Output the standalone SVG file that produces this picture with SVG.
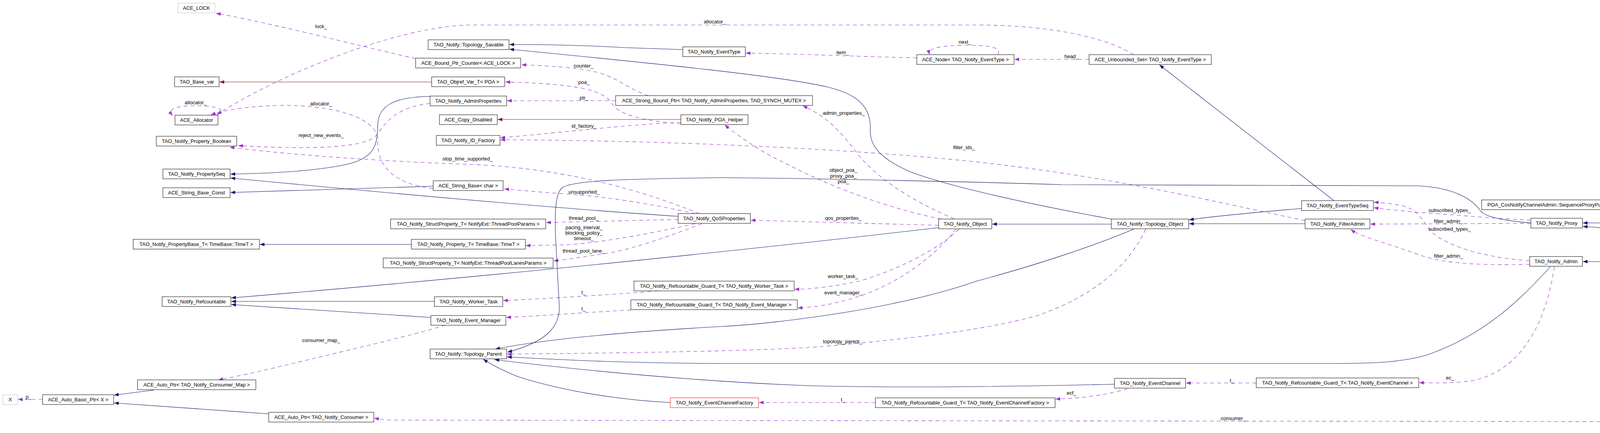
<svg xmlns="http://www.w3.org/2000/svg" width="6552" height="1109" viewBox="0 0 6552 1109">
<style>
text{font-family:"Liberation Sans",Arial,sans-serif;font-size:13px;fill:#000}
.node rect{fill:#fff;stroke:#000;stroke-width:1}
.node text{text-anchor:middle}
.gray rect{stroke:#bfbfbf}
.red rect{stroke:#ff0000}
.main rect{fill:#bfbfbf}
.inh{fill:none;stroke:#191970;stroke-width:1.1;marker-end:url(#an)}
.use{fill:none;stroke:#9a32cd;stroke-width:1.1;stroke-dasharray:10,8;marker-end:url(#ap)}
.prot{fill:none;stroke:#8b1a1a;stroke-width:1.1;marker-end:url(#ar)}
.lbl{text-anchor:middle}
</style>
<defs>
<marker id="an" viewBox="0 0 12 9" refX="12" refY="4.5" markerWidth="12" markerHeight="9" markerUnits="userSpaceOnUse" orient="auto"><path d="M0,0L12,4.5L0,9z" fill="#191970"/></marker>
<marker id="ap" viewBox="0 0 12 9" refX="12" refY="4.5" markerWidth="12" markerHeight="9" markerUnits="userSpaceOnUse" orient="auto"><path d="M0,0L12,4.5L0,9z" fill="#9a32cd"/></marker>
<marker id="ar" viewBox="0 0 12 9" refX="12" refY="4.5" markerWidth="12" markerHeight="9" markerUnits="userSpaceOnUse" orient="auto"><path d="M0,0L12,4.5L0,9z" fill="#8b1a1a"/></marker>
</defs>
<rect x="0" y="0" width="6552" height="1109" fill="#fff"/>
<g id="edges">
<path class="use" d="M1064,150 C950,125 700,60 553,34"/>
<text class="lbl" x="822" y="72">lock_</text>
<path class="use" d="M2902,140 C2840,100 2700,64 2500,64 L1200,64 C1000,70 700,200 556,293"/>
<text class="lbl" x="1830" y="60">allocator_</text>
<path class="use" d="M553,296 C578,284 570,272 505,271 C448,270 428,280 442,296"/>
<text class="lbl" x="501" y="267">allocator_</text>
<path class="use" d="M1109,483 C1000,470 965,420 967,360 C968,300 850,268 715,270 C640,272 580,280 540,294"/>
<text class="lbl" x="822" y="270">allocator_</text>
<path class="use" d="M1101,265 C1000,275 980,330 960,350 C930,378 800,384 610,373"/>
<text class="lbl" x="822" y="351">reject_new_events_</text>
<path class="use" d="M1790,547 C1650,490 1450,430 1200,421 C1000,414 750,398 588,377"/>
<text class="lbl" x="1197" y="411">stop_time_supported_</text>
<path class="use" d="M1780,547 C1700,530 1580,505 1440,496 C1380,492 1330,487 1291,484"/>
<text class="lbl" x="1495" y="496">unsupported_</text>
<path class="prot" d="M1105,210 L562,210"/>
<path class="inh" d="M1748,127 L1600,122 C1500,116 1420,114 1304,114"/>
<path class="inh" d="M2845,561 C2700,535 2450,485 2330,440 C2250,405 2225,370 2228,330 C2230,270 2190,240 2119,223 C2000,195 1700,165 1304,126"/>
<path class="use" d="M1660,245 C1600,225 1580,195 1515,182 C1460,172 1400,168 1335,166"/>
<text class="lbl" x="1494" y="173">counter_</text>
<path class="use" d="M1743,317 C1650,310 1590,295 1570,270 C1550,235 1500,215 1294,210"/>
<text class="lbl" x="1495" y="215">poa_</text>
<path class="use" d="M1576,258 L1298,258"/>
<text class="lbl" x="1495" y="255">ptr_</text>
<path class="inh" d="M1101,247 C1010,248 968,270 967,320 C966,370 960,400 900,418 C820,438 700,444 590,446"/>
<path class="inh" d="M1736,554 C1450,536 1000,495 590,456"/>
<path class="inh" d="M1109,477 L590,493"/>
<path class="prot" d="M1743,306 L1274,306"/>
<path class="use" d="M1743,313 C1600,320 1450,338 1281,353"/>
<text class="lbl" x="1495" y="327">id_factory_</text>
<path class="use" d="M3341,565 C3100,515 2800,440 2400,405 C2100,378 1700,360 1281,358"/>
<text class="lbl" x="2468" y="382">filter_ids_</text>
<path class="use" d="M2347,148 C2200,145 2050,138 1909,136"/>
<text class="lbl" x="2157" y="139">item_</text>
<path class="use" d="M2555,140 C2562,124 2545,116 2480,116 C2410,116 2374,122 2380,140"/>
<text class="lbl" x="2470" y="112">next_</text>
<path class="use" d="M2788,152 L2597,152"/>
<text class="lbl" x="2743" y="149">head_</text>
<path class="inh" d="M3415,514 L2968,166"/>
<path class="inh" d="M3332,534 C3200,545 3100,555 3044,563"/>
<path class="inh" d="M3341,573 L3044,573"/>
<path class="inh" d="M2845,574 L2540,574"/>
<path class="inh" d="M2403,583 C2000,630 1300,705 592,763"/>
<path class="inh" d="M1112,772 L592,772"/>
<path class="inh" d="M1103,813 L592,780"/>
<path class="inh" d="M1053,626 L665,626"/>
<path class="use" d="M1736,562 L1398,570"/>
<text class="lbl" x="1494" y="563">thread_pool_</text>
<path class="use" d="M1780,573 C1700,590 1560,620 1449,627 L1346,629"/>
<text class="lbl" x="1495" y="587">pacing_interval_</text>
<text class="lbl" x="1495" y="601">blocking_policy_</text>
<text class="lbl" x="1495" y="615">timeout_</text>
<path class="use" d="M1797,573 C1700,610 1600,645 1532,652 C1480,660 1450,665 1417,668"/>
<text class="lbl" x="1494" y="647">thread_pool_lane_</text>
<path class="use" d="M1685,745 C1600,752 1450,762 1288,770"/>
<text class="lbl" x="1494" y="753">t_</text>
<path class="use" d="M1615,794 C1500,800 1400,808 1296,813"/>
<text class="lbl" x="1494" y="795">t_</text>
<path class="use" d="M2455,587 C2400,640 2300,690 2200,720 C2130,735 2080,740 2034,741"/>
<text class="lbl" x="2158" y="712">worker_task_</text>
<path class="use" d="M2447,587 C2400,650 2300,730 2180,765 C2120,782 2080,787 2042,789"/>
<text class="lbl" x="2159" y="754">event_manager_</text>
<path class="use" d="M2410,561 C2300,540 2150,490 2016,421 C1950,390 1900,355 1855,320"/>
<text class="lbl" x="2159" y="440">object_poa_</text>
<text class="lbl" x="2159" y="455">proxy_poa_</text>
<text class="lbl" x="2159" y="469">poa_</text>
<path class="use" d="M2443,561 C2350,520 2260,470 2200,400 C2150,335 2120,300 2055,271"/>
<text class="lbl" x="2160" y="294">admin_properties_</text>
<path class="use" d="M2403,577 L1922,564"/>
<text class="lbl" x="2159" y="563">qos_properties_</text>
<path class="inh" d="M3919,571 C3850,565 3800,555 3790,540 C3770,510 3720,480 3630,476 L2718,473 C2500,466 2100,457 1850,455 C1600,458 1470,462 1440,480 C1422,495 1420,540 1422,600 L1432,790 C1430,850 1380,880 1299,902"/>
<path class="use" d="M2933,587 C2890,680 2800,760 2650,810 C2500,850 2300,870 2100,888 C1950,898 1700,903 1298,907"/>
<text class="lbl" x="2157" y="879">topology_parent_</text>
<path class="inh" d="M2902,587 C2800,630 2650,680 2500,720 C2300,790 2000,828 1850,836 C1600,850 1400,868 1268,894"/>
<path class="inh" d="M3969,683 C3900,760 3800,860 3650,910 C3580,930 3500,931 3400,931 L1850,931 C1600,930 1450,922 1298,914"/>
<path class="inh" d="M2853,984 C2600,990 2300,994 2078,988 C1800,978 1500,950 1266,921"/>
<path class="inh" d="M1716,1031 C1600,1025 1450,1005 1324,964 C1290,950 1260,935 1237,920"/>
<path class="use" d="M2241,1031 L1943,1031"/>
<text class="lbl" x="2158" y="1028">t_</text>
<path class="use" d="M2886,996 C2830,1012 2770,1020 2702,1022"/>
<text class="lbl" x="2743" y="1011">ecf_</text>
<path class="use" d="M3216,981 L3036,981"/>
<text class="lbl" x="3154" y="979">t_</text>
<path class="use" d="M3979,683 C3962,800 3910,945 3770,975 C3720,982 3680,981 3633,980"/>
<text class="lbl" x="3712" y="972">ec_</text>
<path class="inh" d="M4393,670 L4052,670"/>
<path class="use" d="M4819,670 L4592,670"/>
<text class="lbl" x="4784" y="667">t_</text>
<path class="use" d="M5412,653 L5252,660"/>
<text class="lbl" x="5329" y="651">consumer_admin_</text>
<path class="use" d="M3919,564 C3830,559 3735,552 3610,542 C3570,538 3540,535 3517,532"/>
<text class="lbl" x="3711" y="543">subscribed_types_</text>
<path class="use" d="M3916,668 C3800,660 3700,630 3660,590 C3640,555 3620,535 3591,527 C3560,521 3540,519 3517,518"/>
<text class="lbl" x="3711" y="591">subscribed_types_</text>
<path class="use" d="M3919,572 L3508,574"/>
<text class="lbl" x="3708" y="571">filter_admin_</text>
<path class="use" d="M3916,677 C3800,680 3700,676 3640,655 C3560,625 3490,610 3458,588"/>
<text class="lbl" x="3708" y="660">filter_admin_</text>
<path class="inh" d="M4357,557 L4137,538"/>
<path class="inh" d="M4226,571 L4052,571"/>
<path class="inh" d="M5412,640 C5000,622 4600,612 4261,593 C4150,587 4100,583 4052,580"/>
<path class="inh" d="M5644,596 C5300,590 5000,580 4757,577"/>
<path class="inh" d="M5801,615 L5593,636"/>
<path class="inh" d="M6276,602 L6224,602"/>
<path class="use" d="M5495,660 C5470,760 5420,880 5380,1000 C5360,1060 5300,1081 5200,1081 L1000,1076 C985,1075 970,1073 958,1071"/>
<text class="lbl" x="3157" y="1076">consumer_</text>
<path class="use" d="M1140,833 C1050,860 900,895 715,939 C650,955 600,965 559,973"/>
<text class="lbl" x="822" y="876">consumer_map_</text>
<path class="inh" d="M394,999 L292,1012"/>
<path class="inh" d="M688,1060 C550,1050 400,1040 292,1032"/>
<path class="use" d="M109,1023 L46,1023"/>
<text class="lbl" x="73" y="1021">p_</text>
</g>
<g id="n1" class="node gray"><rect x="456" y="8" width="94" height="25"/><text x="503" y="25">ACE_LOCK</text></g>
<g id="n2" class="node"><rect x="447" y="197" width="114" height="25"/><text x="504" y="214">TAO_Base_var</text></g>
<g id="n3" class="node"><rect x="448" y="295" width="110" height="25"/><text x="503" y="312">ACE_Allocator</text></g>
<g id="n4" class="node"><rect x="400" y="349" width="206" height="25"/><text x="503" y="366">TAO_Notify_Property_Boolean</text></g>
<g id="n5" class="node"><rect x="417" y="433" width="172" height="25"/><text x="503" y="450">TAO_Notify_PropertySeq</text></g>
<g id="n6" class="node"><rect x="417" y="481" width="172" height="25"/><text x="503" y="498">ACE_String_Base_Const</text></g>
<g id="n7" class="node"><rect x="341" y="613" width="323" height="25"/><text x="502.5" y="630">TAO_Notify_PropertyBase_T&lt; TimeBase::TimeT &gt;</text></g>
<g id="n8" class="node"><rect x="415" y="760" width="176" height="25"/><text x="503" y="777">TAO_Notify_Refcountable</text></g>
<g id="n9" class="node"><rect x="352" y="973" width="303" height="25"/><text x="503.5" y="990">ACE_Auto_Ptr&lt; TAO_Notify_Consumer_Map &gt;</text></g>
<g id="n10" class="node gray"><rect x="7" y="1011" width="38" height="25"/><text x="26" y="1028">X</text></g>
<g id="n11" class="node"><rect x="109" y="1011" width="182" height="25"/><text x="200" y="1028">ACE_Auto_Basic_Ptr&lt; X &gt;</text></g>
<g id="n12" class="node"><rect x="688" y="1056" width="269" height="25"/><text x="822.5" y="1073">ACE_Auto_Ptr&lt; TAO_Notify_Consumer &gt;</text></g>
<g id="n13" class="node"><rect x="1096" y="102" width="207" height="25"/><text x="1199.5" y="119">TAO_Notify::Topology_Savable</text></g>
<g id="n14" class="node"><rect x="1064" y="149" width="269" height="25"/><text x="1198.5" y="166">ACE_Bound_Ptr_Counter&lt; ACE_LOCK &gt;</text></g>
<g id="n15" class="node"><rect x="1105" y="197" width="187" height="25"/><text x="1198.5" y="214">TAO_Objref_Var_T&lt; POA &gt;</text></g>
<g id="n16" class="node"><rect x="1101" y="246" width="196" height="25"/><text x="1199" y="263">TAO_Notify_AdminProperties</text></g>
<g id="n17" class="node"><rect x="1125" y="294" width="148" height="25"/><text x="1199" y="311">ACE_Copy_Disabled</text></g>
<g id="n18" class="node"><rect x="1117" y="347" width="163" height="25"/><text x="1198.5" y="364">TAO_Notify_ID_Factory</text></g>
<g id="n19" class="node"><rect x="1109" y="463" width="179" height="25"/><text x="1198.5" y="480">ACE_String_Base&lt; char &gt;</text></g>
<g id="n20" class="node"><rect x="1000" y="561" width="397" height="25"/><text x="1198.5" y="578">TAO_Notify_StructProperty_T&lt; NotifyExt::ThreadPoolParams &gt;</text></g>
<g id="n21" class="node"><rect x="1053" y="613" width="292" height="25"/><text x="1199" y="630">TAO_Notify_Property_T&lt; TimeBase::TimeT &gt;</text></g>
<g id="n22" class="node"><rect x="981" y="661" width="435" height="25"/><text x="1198.5" y="678">TAO_Notify_StructProperty_T&lt; NotifyExt::ThreadPoolLanesParams &gt;</text></g>
<g id="n23" class="node"><rect x="1112" y="760" width="175" height="25"/><text x="1199.5" y="777">TAO_Notify_Worker_Task</text></g>
<g id="n24" class="node"><rect x="1103" y="808" width="192" height="25"/><text x="1199" y="825">TAO_Notify_Event_Manager</text></g>
<g id="n25" class="node"><rect x="1101" y="894" width="196" height="25"/><text x="1199" y="911">TAO_Notify::Topology_Parent</text></g>
<g id="n26" class="node"><rect x="1748" y="120" width="160" height="25"/><text x="1828" y="137">TAO_Notify_EventType</text></g>
<g id="n27" class="node"><rect x="1576" y="245" width="504" height="25"/><text x="1828" y="262">ACE_Strong_Bound_Ptr&lt; TAO_Notify_AdminProperties, TAO_SYNCH_MUTEX &gt;</text></g>
<g id="n28" class="node"><rect x="1743" y="294" width="172" height="25"/><text x="1829" y="311">TAO_Notify_POA_Helper</text></g>
<g id="n29" class="node"><rect x="1736" y="547" width="185" height="25"/><text x="1828.5" y="564">TAO_Notify_QoSProperties</text></g>
<g id="n30" class="node"><rect x="1623" y="720" width="410" height="25"/><text x="1828" y="737">TAO_Notify_Refcountable_Guard_T&lt; TAO_Notify_Worker_Task &gt;</text></g>
<g id="n31" class="node"><rect x="1615" y="768" width="426" height="25"/><text x="1828" y="785">TAO_Notify_Refcountable_Guard_T&lt; TAO_Notify_Event_Manager &gt;</text></g>
<g id="n32" class="node red"><rect x="1716" y="1019" width="226" height="25"/><text x="1829" y="1036">TAO_Notify_EventChannelFactory</text></g>
<g id="n33" class="node"><rect x="2347" y="140" width="249" height="25"/><text x="2471.5" y="157">ACE_Node&lt; TAO_Notify_EventType &gt;</text></g>
<g id="n34" class="node"><rect x="2403" y="561" width="136" height="25"/><text x="2471" y="578">TAO_Notify_Object</text></g>
<g id="n35" class="node"><rect x="2241" y="1019" width="460" height="25"/><text x="2471" y="1036">TAO_Notify_Refcountable_Guard_T&lt; TAO_Notify_EventChannelFactory &gt;</text></g>
<g id="n36" class="node"><rect x="2788" y="140" width="313" height="25"/><text x="2944.5" y="157">ACE_Unbounded_Set&lt; TAO_Notify_EventType &gt;</text></g>
<g id="n37" class="node"><rect x="2845" y="561" width="198" height="25"/><text x="2944" y="578">TAO_Notify::Topology_Object</text></g>
<g id="n38" class="node"><rect x="2853" y="969" width="182" height="25"/><text x="2944" y="986">TAO_Notify_EventChannel</text></g>
<g id="n39" class="node"><rect x="3332" y="514" width="184" height="25"/><text x="3424" y="531">TAO_Notify_EventTypeSeq</text></g>
<g id="n40" class="node"><rect x="3341" y="561" width="166" height="25"/><text x="3424" y="578">TAO_Notify_FilterAdmin</text></g>
<g id="n41" class="node"><rect x="3216" y="968" width="416" height="25"/><text x="3424" y="985">TAO_Notify_Refcountable_Guard_T&lt; TAO_Notify_EventChannel &gt;</text></g>
<g id="n42" class="node"><rect x="3793" y="512" width="382" height="25"/><text x="3984" y="529">POA_CosNotifyChannelAdmin::SequenceProxyPushSupplier</text></g>
<g id="n43" class="node"><rect x="3919" y="559" width="132" height="25"/><text x="3985" y="576">TAO_Notify_Proxy</text></g>
<g id="n44" class="node"><rect x="3916" y="657" width="135" height="25"/><text x="3983.5" y="674">TAO_Notify_Admin</text></g>
<g id="n45" class="node"><rect x="4226" y="557" width="530" height="25"/><text x="4491" y="574">TAO_Notify_Proxy_T&lt; POA_CosNotifyChannelAdmin::SequenceProxyPushSupplier &gt;</text></g>
<g id="n46" class="node"><rect x="4393" y="657" width="198" height="25"/><text x="4492" y="674">TAO_Notify_ConsumerAdmin</text></g>
<g id="n47" class="node"><rect x="4819" y="657" width="432" height="25"/><text x="5035" y="674">TAO_Notify_Refcountable_Guard_T&lt; TAO_Notify_ConsumerAdmin &gt;</text></g>
<g id="n48" class="node"><rect x="5412" y="635" width="180" height="25"/><text x="5502" y="652">TAO_Notify_ProxySupplier</text></g>
<g id="n49" class="node"><rect x="5644" y="589" width="579" height="25"/><text x="5933.5" y="606">TAO_Notify_ProxySupplier_T&lt; POA_CosNotifyChannelAdmin::SequenceProxyPushSupplier &gt;</text></g>
<g id="n50" class="node main"><rect x="6276" y="589" width="271" height="25"/><text x="6411.5" y="606">TAO_Notify_SequenceProxyPushSupplier</text></g>
</svg>
